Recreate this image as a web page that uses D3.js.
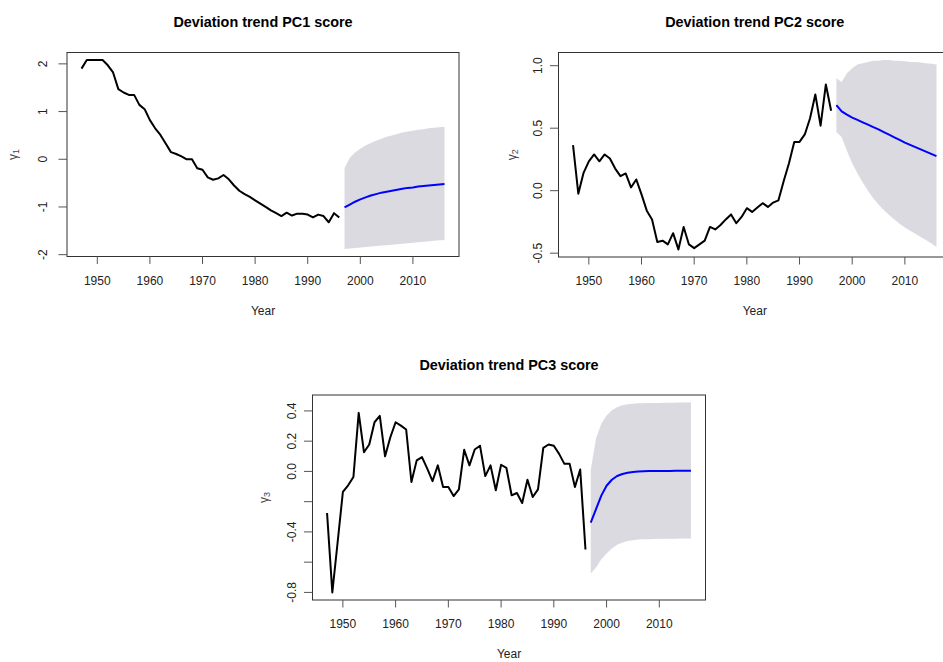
<!DOCTYPE html>
<html>
<head>
<meta charset="utf-8">
<script src="https://cdn.jsdelivr.net/npm/d3@7/dist/d3.min.js"></script>
<style>
  body { margin: 0; background: #fff; }
  text { font-family: "Liberation Sans", Arial, Helvetica, sans-serif; }
</style>
</head>
<body>
<svg id="chart" width="943" height="662"></svg>
<script>
// Observed years and forecast horizon
const obsYears = d3.range(1947, 1997);
const fcYears = d3.range(1997, 2017);

// PC1 score: observed series, forecast mean, 95% band
const pc1Obs = [1.90, 2.08, 2.08, 2.08, 2.08, 1.97, 1.82, 1.47, 1.40, 1.35,
                1.35, 1.14, 1.05, 0.82, 0.65, 0.51, 0.33, 0.15, 0.11, 0.06,
                0.00, 0.00, -0.19, -0.22, -0.38, -0.43, -0.40, -0.33, -0.42, -0.55,
                -0.66, -0.73, -0.79, -0.86, -0.93, -1.00, -1.07, -1.13, -1.19, -1.12,
                -1.18, -1.14, -1.14, -1.16, -1.22, -1.16, -1.19, -1.32, -1.13, -1.22];
const pc1Mean = [-1.01, -0.95, -0.89, -0.84, -0.80, -0.76, -0.73, -0.70, -0.68, -0.66,
                 -0.64, -0.62, -0.60, -0.59, -0.57, -0.56, -0.55, -0.54, -0.53, -0.52];
const pc1Hi = [-0.19, 0.03, 0.14, 0.22, 0.29, 0.34, 0.39, 0.43, 0.47, 0.50,
               0.53, 0.56, 0.58, 0.60, 0.62, 0.63, 0.65, 0.66, 0.67, 0.68];
const pc1Lo = [-1.88, -1.87, -1.86, -1.85, -1.84, -1.83, -1.82, -1.81, -1.80, -1.79,
               -1.78, -1.77, -1.76, -1.75, -1.74, -1.73, -1.72, -1.71, -1.70, -1.70];

// PC2 score
const pc2Obs = [0.365, -0.024, 0.143, 0.235, 0.29, 0.235, 0.29, 0.257, 0.177, 0.116,
                0.138, 0.026, 0.09, -0.03, -0.16, -0.23, -0.41, -0.40, -0.43, -0.34,
                -0.47, -0.29, -0.43, -0.46, -0.43, -0.40, -0.29, -0.31, -0.275, -0.23,
                -0.19, -0.26, -0.21, -0.14, -0.17, -0.135, -0.10, -0.13, -0.095, -0.077,
                0.077, 0.22, 0.39, 0.39, 0.45, 0.58, 0.77, 0.52, 0.85, 0.64];
const pc2Mean = [0.685, 0.635, 0.608, 0.585, 0.566, 0.547, 0.528, 0.509, 0.49, 0.469,
                 0.448, 0.427, 0.406, 0.385, 0.367, 0.349, 0.331, 0.313, 0.295, 0.277];
const pc2Hi = [0.90, 0.87, 0.94, 0.98, 1.01, 1.02, 1.03, 1.04, 1.04, 1.045,
               1.045, 1.04, 1.04, 1.035, 1.03, 1.03, 1.025, 1.02, 1.015, 1.01];
const pc2Lo = [0.47, 0.43, 0.32, 0.22, 0.14, 0.065, 0.00, -0.06, -0.11, -0.155,
               -0.195, -0.23, -0.265, -0.295, -0.32, -0.345, -0.37, -0.395, -0.42, -0.45];

// PC3 score
const pc3Obs = [-0.275, -0.80, -0.47, -0.136, -0.092, -0.037, 0.387, 0.127, 0.178, 0.325,
                0.367, 0.10, 0.226, 0.325, 0.303, 0.277, -0.07, 0.073, 0.095, 0.018,
                -0.064, 0.04, -0.103, -0.103, -0.163, -0.119, 0.143, 0.04, 0.145, 0.17,
                -0.031, 0.04, -0.125, 0.044, 0.024, -0.158, -0.143, -0.209, -0.055, -0.169,
                -0.119, 0.156, 0.178, 0.17, 0.116, 0.05, 0.05, -0.103, 0.013, -0.516];
const pc3Mean = [-0.338, -0.25, -0.16, -0.095, -0.055, -0.03, -0.017, -0.009, -0.004, -0.001,
                 0.001, 0.002, 0.003, 0.003, 0.003, 0.003, 0.004, 0.004, 0.004, 0.004];
const pc3Hi = [0.007, 0.22, 0.315, 0.37, 0.405, 0.425, 0.437, 0.444, 0.448, 0.45,
               0.451, 0.452, 0.453, 0.453, 0.454, 0.454, 0.454, 0.455, 0.455, 0.455];
const pc3Lo = [-0.675, -0.635, -0.58, -0.543, -0.51, -0.485, -0.47, -0.46, -0.455, -0.451,
               -0.449, -0.448, -0.447, -0.446, -0.446, -0.445, -0.445, -0.444, -0.444, -0.444];

// Tick values and labels
const yearTicks = [1950, 1960, 1970, 1980, 1990, 2000, 2010];
const pc1Ticks = [-2, -1, 0, 1, 2];
const pc1TickLabels = ["-2", "-1", "0", "1", "2"];
const pc2Ticks = [-0.5, 0, 0.5, 1.0];
const pc2TickLabels = ["-0.5", "0.0", "0.5", "1.0"];
const pc3Ticks = [-0.8, -0.6, -0.4, -0.2, 0, 0.2, 0.4];
const pc3TickLabels = ["-0.8", "", "-0.4", "", "0.0", "0.2", "0.4"];

const titles = ["Deviation trend PC1 score", "Deviation trend PC2 score", "Deviation trend PC3 score"];
const subscripts = ["1", "2", "3"];
const xTitle = "Year";

// Plot regions
const panels = [
  { left: 67,    right: 459,   top: 52.5, bottom: 256.5, tickDx: 24.5, titleDx: 53.7,
    obs: pc1Obs, mean: pc1Mean, lo: pc1Lo, hi: pc1Hi, ticks: pc1Ticks, labels: pc1TickLabels },
  { left: 558.5, right: 951,   top: 52.5, bottom: 257,   tickDx: 20.5, titleDx: 47,
    obs: pc2Obs, mean: pc2Mean, lo: pc2Lo, hi: pc2Hi, ticks: pc2Ticks, labels: pc2TickLabels },
  { left: 312.5, right: 705.5, top: 395,  bottom: 600,   tickDx: 21,   titleDx: 49,
    obs: pc3Obs, mean: pc3Mean, lo: pc3Lo, hi: pc3Hi, ticks: pc3Ticks, labels: pc3TickLabels }
];

const svg = d3.select("#chart");
svg.append("rect").attr("width", 943).attr("height", 662).attr("fill", "#fff");

// R-style 4% axis padding
function padded(lo, hi) {
  const p = (hi - lo) * 0.04;
  return [lo - p, hi + p];
}

panels.forEach((p, i) => {
  const g = svg.append("g");
  const allYears = obsYears.concat(fcYears);
  const x = d3.scaleLinear()
    .domain(padded(d3.min(allYears), d3.max(allYears)))
    .range([p.left, p.right]);
  const allVals = p.obs.concat(p.lo, p.hi, p.mean);
  const y = d3.scaleLinear()
    .domain(padded(d3.min(allVals), d3.max(allVals)))
    .range([p.bottom, p.top]);

  const fc = fcYears.map((yr, k) => ({ yr, m: p.mean[k], lo: p.lo[k], hi: p.hi[k] }));
  const obs = obsYears.map((yr, k) => ({ yr, v: p.obs[k] }));

  // prediction band
  g.append("path")
    .datum(fc)
    .attr("fill", "#dadae0")
    .attr("d", d3.area().x(d => x(d.yr)).y0(d => y(d.lo)).y1(d => y(d.hi)));

  // observed series
  g.append("path")
    .datum(obs)
    .attr("fill", "none")
    .attr("stroke", "#000")
    .attr("stroke-width", 2)
    .attr("stroke-linejoin", "round")
    .attr("d", d3.line().x(d => x(d.yr)).y(d => y(d.v)));

  // forecast mean
  g.append("path")
    .datum(fc)
    .attr("fill", "none")
    .attr("stroke", "#0000ff")
    .attr("stroke-width", 2)
    .attr("stroke-linejoin", "round")
    .attr("d", d3.line().x(d => x(d.yr)).y(d => y(d.m)));

  // frame
  g.append("rect")
    .attr("x", p.left).attr("y", p.top)
    .attr("width", p.right - p.left).attr("height", p.bottom - p.top)
    .attr("fill", "none").attr("stroke", "#333").attr("stroke-width", 1);

  // x axis ticks and labels
  const xa = g.append("g");
  xa.selectAll("line").data(yearTicks).join("line")
    .attr("x1", d => x(d)).attr("x2", d => x(d))
    .attr("y1", p.bottom).attr("y2", p.bottom + 7.5)
    .attr("stroke", "#555").attr("stroke-width", 1);
  xa.selectAll("text").data(yearTicks).join("text")
    .attr("x", d => x(d)).attr("y", p.bottom + 28)
    .attr("text-anchor", "middle")
    .attr("font-size", 12).attr("fill", "#222")
    .text(d => d);
  g.append("text")
    .attr("x", (p.left + p.right) / 2).attr("y", p.bottom + 58)
    .attr("text-anchor", "middle")
    .attr("font-size", 12).attr("fill", "#222")
    .text(xTitle);

  // y axis ticks and rotated labels
  const ya = g.append("g");
  ya.selectAll("line").data(p.ticks).join("line")
    .attr("x1", p.left - 8.5).attr("x2", p.left)
    .attr("y1", d => y(d)).attr("y2", d => y(d))
    .attr("stroke", "#555").attr("stroke-width", 1);
  ya.selectAll("text").data(p.ticks).join("text")
    .attr("transform", d => `translate(${p.left - p.tickDx},${y(d)}) rotate(-90)`)
    .attr("text-anchor", "middle")
    .attr("dominant-baseline", "central")
    .attr("font-size", 12).attr("fill", "#222")
    .text((d, k) => p.labels[k]);

  // y axis title: gamma with subscript
  const yt = g.append("text")
    .attr("transform", `translate(${p.left - p.titleDx},${(p.top + p.bottom) / 2}) rotate(-90)`)
    .attr("text-anchor", "middle")
    .attr("dominant-baseline", "central")
    .attr("font-size", 12).attr("fill", "#444");
  yt.append("tspan").text("\u03B3");
  yt.append("tspan").attr("font-size", 9).attr("dy", 3).text(subscripts[i]);

  // panel title
  g.append("text")
    .attr("x", (p.left + p.right) / 2).attr("y", p.top - 25.5)
    .attr("text-anchor", "middle")
    .attr("font-size", 14.4).attr("font-weight", "bold").attr("fill", "#000")
    .text(titles[i]);
});
</script>
</body>
</html>
